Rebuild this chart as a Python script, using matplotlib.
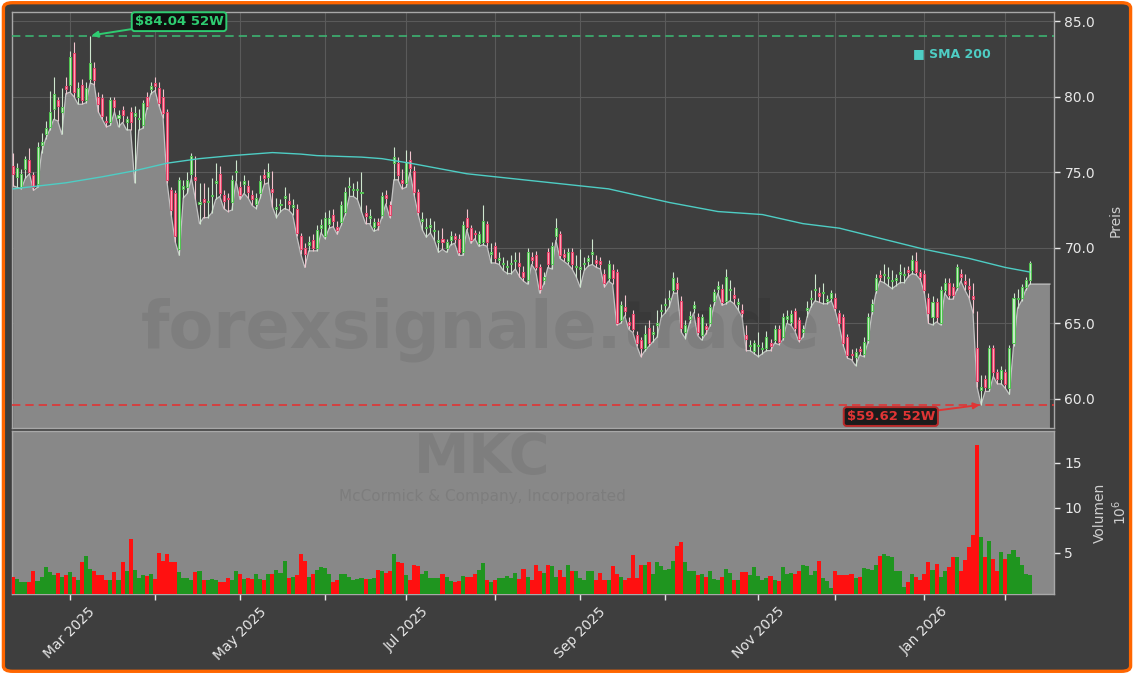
import numpy as np
import pandas as pd
import matplotlib
matplotlib.use("Agg")
import matplotlib.pyplot as plt
from matplotlib.patches import FancyBboxPatch


# ---------- Data ----------

TICKER = "MKC"
COMPANY = "McCormick & Company, Incorporated"
WATERMARK = "forexsignale.trade"

START = "2025-02-10"
END = "2026-02-10"
HOLIDAYS = ["2025-02-17", "2025-04-18", "2025-05-26", "2025-06-19", "2025-07-04",
            "2025-09-01", "2025-11-27", "2025-12-25", "2026-01-01", "2026-01-19"]

opens = [
    75.4, 74.7, 74.0, 75.2, 75.8, 74.8, 74.2, 76.8, 77.5, 78.0,
    79.2, 79.8, 79.0, 80.7, 80.8, 82.9, 80.0, 80.8, 79.8, 81.2,
    81.9, 80.0, 79.9, 78.4, 78.3, 79.8, 78.6, 79.1, 78.3, 79.0,
    78.7, 78.5, 78.1, 80.0, 80.5, 80.9, 80.6, 80.0, 79.0, 73.8,
    73.6, 69.9, 73.9, 74.0, 74.9, 74.7, 72.9, 73.2, 73.0, 73.4,
    74.3, 74.9, 73.5, 73.3, 73.0, 75.0, 74.0, 74.2, 74.1, 73.5,
    72.9, 73.6, 74.8, 74.7, 73.9, 72.6, 72.8, 73.3, 73.1, 72.7,
    72.6, 70.8, 70.0, 70.2, 70.5, 70.0, 71.3, 70.8, 71.6, 72.2,
    71.4, 71.7, 72.4, 74.0, 73.8, 73.8, 73.6, 72.3, 72.0, 71.4,
    71.7, 72.2, 73.5, 72.8, 75.6, 75.6, 74.5, 74.3, 75.8, 75.1,
    73.7, 71.8, 71.3, 71.4, 71.1, 70.4, 70.6, 70.0, 70.5, 70.8,
    70.6, 69.7, 72.0, 71.3, 71.0, 70.3, 70.4, 71.6, 69.6, 70.1,
    69.2, 68.9, 68.7, 68.9, 69.1, 69.0, 68.4, 67.9, 69.4, 69.5,
    68.7, 67.9, 69.7, 68.9, 70.8, 70.9, 69.6, 69.1, 69.7, 68.7,
    68.6, 68.9, 69.1, 69.6, 69.2, 69.1, 68.3, 68.0, 68.5, 68.4,
    65.2, 66.1, 65.1, 65.6, 64.2, 63.9, 63.4, 64.7, 64.3, 64.9,
    65.8, 66.2, 66.6, 67.2, 67.7, 66.5, 64.4, 65.3, 66.0, 65.4,
    64.2, 64.8, 65.0, 66.5, 67.3, 67.3, 66.5, 67.2, 66.9, 66.3,
    65.9, 64.2, 63.5, 63.2, 63.5, 63.3, 63.4, 63.7, 63.9, 64.6,
    64.1, 65.3, 65.1, 65.8, 65.2, 64.4, 65.9, 66.6, 67.2, 67.0,
    67.0, 66.5, 66.7, 66.7, 65.7, 65.4, 64.1, 63.0, 62.8, 63.3,
    63.0, 63.9, 65.8, 67.2, 68.2, 68.2, 68.0, 67.8, 67.9, 68.3,
    68.2, 68.5, 68.5, 69.1, 68.4, 68.3, 66.7, 65.4, 66.4, 65.0,
    67.2, 67.7, 67.4, 67.4, 68.3, 67.8, 67.5, 66.8, 63.4, 60.6,
    61.3, 60.7, 63.4, 61.8, 61.3, 61.8, 60.7, 63.7, 66.6, 66.7,
    67.4, 67.9,
]

highs = [
    76.3, 75.6, 75.2, 76.1, 76.6, 75.0, 77.0, 77.6, 78.4, 80.4,
    81.3, 80.0, 80.6, 81.3, 83.0, 83.6, 81.0, 81.2, 81.0, 84.04,
    82.3, 80.3, 80.2, 78.7, 80.0, 80.0, 79.1, 79.4, 78.7, 79.3,
    79.4, 79.2, 79.8, 80.3, 81.0, 81.3, 81.0, 80.5, 79.2, 74.0,
    73.8, 74.7, 74.5, 75.0, 76.3, 76.1, 74.3, 74.3, 74.0, 74.6,
    75.6, 75.4, 73.8, 73.6, 74.8, 75.8, 74.4, 74.8, 74.5, 73.8,
    73.6, 74.8, 75.2, 75.6, 75.1, 73.3, 73.2, 74.0, 73.6, 73.2,
    72.9, 71.0, 70.3, 70.8, 70.9, 71.5, 71.9, 72.4, 72.5, 72.6,
    71.8, 73.1, 74.0, 74.7, 74.3, 74.4, 75.0, 72.8, 72.6, 72.0,
    72.0, 73.7, 73.8, 73.1, 76.7, 76.0, 75.2, 76.5, 76.4, 75.4,
    73.9, 72.4, 72.0, 72.0, 71.8, 71.2, 71.3, 70.6, 71.1, 71.0,
    70.9, 71.8, 72.6, 71.5, 71.2, 71.1, 72.8, 71.8, 70.3, 70.4,
    69.7, 69.4, 69.2, 69.5, 69.7, 69.7, 68.8, 70.0, 69.7, 69.8,
    68.9, 68.4, 70.0, 70.4, 72.0, 71.1, 69.9, 70.0, 70.0, 69.5,
    69.9, 69.4, 69.5, 70.6, 69.5, 69.4, 68.6, 69.2, 68.9, 68.6,
    66.5, 66.9, 65.4, 65.9, 64.5, 64.1, 64.9, 65.2, 64.9, 65.9,
    66.3, 66.7, 67.2, 68.4, 68.1, 66.8, 65.2, 65.8, 66.5, 65.7,
    65.6, 65.0, 66.3, 67.3, 67.8, 67.6, 68.6, 67.9, 67.4, 66.7,
    66.3, 64.9, 63.9, 63.9, 64.4, 63.8, 64.5, 64.0, 64.9, 64.9,
    65.7, 65.9, 65.9, 66.0, 65.4, 64.9, 66.5, 67.2, 68.3, 67.4,
    67.7, 66.9, 67.2, 67.0, 65.9, 65.6, 64.3, 63.3, 63.4, 63.5,
    64.1, 65.7, 66.6, 68.3, 68.5, 68.9, 68.7, 68.5, 68.3, 68.9,
    68.7, 68.8, 69.5, 69.7, 68.6, 68.5, 67.0, 66.8, 66.7, 67.5,
    68.0, 68.0, 67.7, 68.9, 68.6, 68.3, 68.0, 67.7, 65.8, 61.6,
    61.6, 63.6, 63.6, 62.0, 62.2, 62.0, 63.6, 67.0, 67.3, 67.6,
    68.1, 69.1,
]

lows = [
    74.1, 74.0, 73.9, 74.6, 74.9, 73.8, 74.0, 76.3, 77.2, 77.8,
    78.5, 78.4, 77.5, 80.2, 80.3, 80.0, 79.5, 79.5, 79.6, 80.9,
    80.8, 79.0, 78.5, 78.0, 78.1, 79.0, 78.0, 78.3, 77.8, 77.8,
    74.3, 77.8, 77.9, 79.2, 80.2, 80.4, 79.4, 78.6, 74.3, 72.2,
    70.4, 69.5, 73.3, 73.6, 74.6, 73.2, 71.6, 72.0, 72.0, 72.3,
    73.2, 73.4, 72.6, 72.4, 72.5, 74.4, 73.2, 73.6, 73.3, 72.8,
    72.6, 73.3, 74.2, 74.3, 72.7, 72.0, 72.4, 72.6, 72.5, 72.2,
    70.8, 69.6, 68.7, 69.8, 69.8, 69.8, 71.0, 70.6, 71.3, 71.4,
    70.9, 71.5, 72.2, 73.4, 73.4, 73.2, 72.4, 71.6, 71.6, 71.1,
    71.2, 72.0, 72.9, 72.0, 74.5, 74.5, 73.9, 74.0, 75.0, 73.5,
    72.2, 71.2, 70.7, 71.0, 70.5, 69.7, 69.9, 69.7, 70.2, 70.3,
    69.5, 69.5, 71.2, 70.3, 70.6, 70.1, 70.2, 70.1, 69.0, 69.0,
    68.9, 68.5, 68.3, 68.3, 68.6, 68.1, 67.8, 67.6, 68.9, 68.5,
    67.0, 67.6, 68.7, 68.6, 70.5, 69.3, 69.1, 68.9, 68.6, 68.1,
    67.4, 68.5, 68.8, 68.9, 68.7, 68.6, 67.4, 67.8, 67.6, 64.9,
    65.0, 65.5, 64.6, 64.4, 63.5, 62.8, 63.2, 63.5, 63.8, 64.1,
    65.4, 65.7, 66.1, 67.0, 67.0, 64.4, 64.0, 65.0, 65.7, 64.2,
    63.9, 64.3, 64.8, 66.2, 67.0, 66.2, 66.3, 66.5, 66.3, 65.9,
    65.4, 63.2, 63.2, 63.0, 62.8, 63.0, 63.2, 63.2, 63.7, 63.6,
    63.9, 65.0, 64.9, 64.5, 63.8, 64.1, 65.4, 66.1, 66.5, 66.4,
    66.3, 66.3, 66.5, 65.8, 64.8, 63.5, 62.7, 62.6, 62.2, 62.9,
    62.8, 63.7, 65.6, 67.0, 67.8, 67.7, 67.5, 67.3, 67.5, 67.7,
    67.7, 68.1, 68.3, 68.2, 67.9, 67.0, 65.0, 64.9, 65.1, 64.9,
    67.0, 66.6, 66.6, 67.2, 67.8, 67.2, 66.7, 65.7, 60.8, 59.62,
    60.5, 60.5, 61.5, 61.0, 61.0, 60.7, 60.3, 63.5, 66.0, 66.5,
    67.2, 67.6,
]

closes = [
    74.9, 75.3, 74.9, 75.9, 75.0, 74.0, 76.7, 77.0, 77.9, 79.0,
    80.2, 79.4, 79.3, 80.5, 82.6, 80.3, 80.6, 79.8, 80.6, 82.2,
    81.1, 79.5, 78.7, 78.3, 79.8, 79.3, 78.8, 78.8, 78.5, 78.3,
    78.9, 78.6, 79.6, 79.4, 80.7, 80.7, 79.6, 78.9, 74.5, 72.5,
    70.8, 74.5, 74.1, 74.5, 76.1, 74.5, 73.0, 73.0, 73.1, 73.5,
    74.4, 73.6, 73.1, 73.2, 74.5, 75.1, 73.5, 74.4, 73.7, 73.2,
    73.3, 74.4, 74.6, 75.0, 73.7, 72.7, 72.9, 73.4, 72.9, 72.8,
    71.0, 69.9, 69.6, 70.4, 70.0, 71.2, 71.5, 72.0, 72.0, 71.8,
    71.2, 72.8, 73.7, 74.1, 73.9, 73.9, 73.7, 72.1, 72.1, 71.7,
    71.5, 73.4, 73.3, 72.2, 76.0, 74.8, 74.3, 75.7, 75.3, 73.7,
    72.4, 71.9, 71.4, 71.5, 71.2, 70.5, 70.4, 70.4, 70.8, 70.6,
    69.7, 71.5, 71.4, 70.5, 70.9, 70.9, 71.8, 70.4, 69.7, 69.3,
    69.3, 69.0, 68.8, 69.0, 69.2, 68.8, 68.1, 69.7, 69.2, 68.7,
    67.3, 68.1, 68.9, 70.1, 71.3, 69.5, 69.4, 69.7, 68.9, 68.8,
    68.7, 69.0, 69.3, 69.7, 69.0, 68.9, 67.7, 68.9, 68.0, 65.0,
    66.2, 65.8, 64.9, 64.6, 63.7, 63.4, 64.3, 63.7, 64.4, 65.0,
    65.9, 66.3, 66.7, 68.0, 67.3, 64.7, 64.9, 65.5, 66.2, 64.4,
    65.4, 64.6, 66.1, 67.1, 67.5, 66.4, 68.1, 67.3, 66.7, 66.4,
    65.7, 64.0, 63.6, 63.7, 63.6, 63.4, 64.1, 63.5, 64.6, 63.8,
    65.4, 65.5, 65.6, 64.7, 64.0, 64.6, 66.0, 66.7, 67.3, 66.8,
    67.1, 66.6, 67.0, 66.0, 65.0, 63.7, 62.9, 62.9, 63.1, 63.2,
    63.8, 65.4, 66.3, 68.0, 68.1, 68.3, 68.1, 67.9, 68.0, 68.4,
    68.3, 68.4, 69.2, 68.4, 68.1, 67.2, 65.7, 66.4, 65.4, 67.2,
    67.7, 66.9, 66.9, 68.7, 68.1, 67.6, 67.3, 66.6, 61.2, 60.8,
    60.8, 63.4, 61.8, 61.3, 61.9, 61.0, 63.4, 66.7, 66.7, 67.4,
    67.9, 69.0,
]

# volume in millions of shares
volumes = [
    2.3, 2.1, 1.7, 1.7, 1.7, 2.9, 1.8, 2.3, 3.4, 2.8,
    2.5, 2.7, 2.3, 2.5, 2.8, 2.3, 2.0, 3.9, 4.6, 3.2,
    3.0, 2.5, 2.5, 1.9, 1.9, 2.8, 2.0, 4.0, 3.0, 6.5,
    3.1, 2.2, 2.5, 2.4, 2.6, 2.1, 5.0, 4.1, 4.8, 3.9,
    3.9, 2.8, 2.2, 2.2, 2.0, 2.8, 2.9, 2.0, 2.0, 2.1,
    1.9, 1.7, 1.7, 2.2, 1.9, 2.9, 2.6, 2.1, 2.2, 2.1,
    2.6, 2.1, 1.9, 2.6, 2.6, 3.1, 2.7, 4.1, 2.2, 2.3,
    2.5, 4.8, 4.1, 2.3, 2.6, 3.1, 3.4, 3.3, 2.6, 1.7,
    2.0, 2.6, 2.6, 2.3, 2.0, 2.1, 2.2, 2.1, 2.1, 2.2,
    3.1, 3.0, 2.7, 3.0, 4.8, 3.9, 3.8, 2.5, 2.0, 3.6,
    3.5, 2.6, 3.0, 2.2, 2.2, 2.2, 2.6, 2.3, 1.8, 1.7,
    1.8, 2.4, 2.3, 2.3, 2.6, 3.1, 3.8, 1.9, 1.7, 2.0,
    2.2, 2.2, 2.4, 2.2, 2.7, 2.1, 3.2, 2.3, 2.0, 3.6,
    2.9, 2.7, 3.6, 3.5, 2.3, 3.1, 2.3, 3.6, 2.9, 2.9,
    2.2, 2.0, 2.9, 2.9, 1.9, 2.7, 2.0, 1.9, 3.5, 2.6,
    2.3, 1.9, 2.2, 4.7, 2.2, 3.6, 3.6, 3.9, 2.6, 3.9,
    3.5, 3.1, 3.2, 4.1, 5.7, 6.2, 4.0, 2.9, 2.9, 2.5,
    2.6, 2.3, 2.9, 2.1, 2.0, 2.3, 3.2, 2.7, 1.9, 2.0,
    2.8, 2.8, 2.5, 3.4, 2.4, 2.0, 2.2, 2.4, 1.9, 1.8,
    3.4, 2.6, 2.7, 2.6, 2.9, 3.6, 3.5, 2.5, 3.0, 4.1,
    2.2, 1.8, 1.1, 2.9, 2.5, 2.5, 2.5, 2.6, 2.2, 2.3,
    3.3, 3.2, 3.1, 3.6, 4.6, 4.8, 4.6, 4.5, 2.9, 2.9,
    1.2, 1.7, 2.6, 2.3, 2.0, 2.6, 3.9, 3.1, 3.7, 2.3,
    2.9, 3.4, 4.5, 4.5, 2.9, 4.2, 5.6, 6.9, 17.0, 6.7,
    4.5, 6.3, 4.3, 2.9, 5.1, 4.3, 4.8, 5.3, 4.5, 3.6,
    2.6, 2.5,
]

# 200-day SMA, sampled at trading-day positions
sma_idx = [0, 13, 22, 30, 38, 46, 54, 64, 71, 75, 86, 91, 98, 112,
           133, 147, 162, 174, 185, 195, 204, 219, 225, 236, 245, 251]
sma_vals = [73.9, 74.3, 74.7, 75.1, 75.6, 75.9, 76.1, 76.3, 76.2, 76.1,
            76.0, 75.9, 75.6, 74.9, 74.3, 73.9, 73.0, 72.4, 72.2, 71.6,
            71.3, 70.3, 69.9, 69.3, 68.7, 68.4]


# ---------- Style ----------

BG = "#3e3e3e"
FILL = "#888888"
GRID = "#5a5a5a"
SPINE = "#a8a8a8"
TEXT = "#e8e8e8"
UP_EDGE, UP_FACE, UP_WICK = "#52c452", "#c8ecc8", "#cfe6cf"
DN_EDGE, DN_FACE, DN_WICK = "#e8436a", "#ffa6ba", "#f2c4ce"
VOL_UP, VOL_DN = "#1f951f", "#ff1010"
SMA_COLOR = "#4ecdc4"
HIGH_COLOR = "#2ecc71"
LOW_COLOR = "#e03535"

W, H = 1134, 674


def trading_days():
    days = pd.bdate_range(START, END)
    return days[~days.isin(pd.to_datetime(HOLIDAYS))]


def main():
    dates = trading_days()
    o = np.array(opens)
    h = np.array(highs)
    l = np.array(lows)
    c = np.array(closes)
    v = np.array(volumes)
    x = np.arange(len(c))
    assert len(dates) == len(c)

    fig = plt.figure(figsize=(W / 100, H / 100), dpi=100, facecolor="white")
    fig.add_artist(FancyBboxPatch((0.003, 0.004), 0.994, 0.992,
                                  boxstyle="round,pad=0,rounding_size=0.008",
                                  transform=fig.transFigure, facecolor=BG,
                                  edgecolor="#ff6600", linewidth=2.4, zorder=-10))

    ax = fig.add_axes([12 / W, 1 - 428 / H, 1042 / W, 416 / H])
    axv = fig.add_axes([12 / W, 1 - 594 / H, 1042 / W, 163 / H], sharex=ax)
    ax.set_facecolor(BG)
    axv.set_facecolor(FILL)
    for a in (ax, axv):
        for s in a.spines.values():
            s.set_color(SPINE)
            s.set_linewidth(1.0)

    # ----- price: area under the lows -----
    x_fill = np.append(x, 256)
    y_fill = np.append(l, l[-1])
    ax.fill_between(x_fill, y_fill, 0, color=FILL, lw=0, zorder=1)
    ax.plot(x_fill, y_fill, color="#c4c4c4", lw=0.9, zorder=1.5)

    ax.text(481 / W, 1 - 330 / H, WATERMARK, transform=fig.transFigure,
            fontsize=47, fontweight="bold", color="black", alpha=0.07,
            ha="center", va="center", zorder=2)

    # ----- candles -----
    up = c >= o
    wick_colors = np.where(up, UP_WICK, DN_WICK)
    ax.vlines(x, l, h, colors=wick_colors, lw=0.8, zorder=3)
    body_lo = np.minimum(o, c)
    body_h = np.maximum(np.abs(c - o), 0.05)
    ax.bar(x, body_h, bottom=body_lo, width=0.5,
           color=np.where(up, UP_FACE, DN_FACE),
           edgecolor=np.where(up, UP_EDGE, DN_EDGE), linewidth=0.75, zorder=4)

    # ----- SMA 200 -----
    ax.plot(sma_idx, sma_vals, color=SMA_COLOR, lw=1.0, zorder=5)
    ax.text(0.865, 0.899, "\u25a0 SMA 200", transform=ax.transAxes,
            color=SMA_COLOR, fontsize=9, fontweight="bold", va="center", ha="left")

    # ----- 52 week high / low -----
    hi_i, lo_i = int(np.argmax(h)), int(np.argmin(l))
    hi, lo = h[hi_i], l[lo_i]
    ax.axhline(hi, color="#3cb371", lw=1.2, ls=(0, (5, 3)), zorder=6)
    ax.axhline(lo, color=LOW_COLOR, lw=1.2, ls=(0, (5, 3)), zorder=6)
    ax.annotate(f"\\${hi:.2f} 52W", xy=(hi_i, hi), xytext=(64, 10),
                textcoords="offset points", ha="center", va="center",
                color=HIGH_COLOR, fontsize=9.5, fontweight="bold", zorder=8,
                bbox=dict(boxstyle="round,pad=0.22", fc="#0e0e0e", ec=HIGH_COLOR, lw=1.4),
                arrowprops=dict(arrowstyle="-|>", color=HIGH_COLOR, lw=1.4,
                                mutation_scale=9, shrinkA=0, shrinkB=1))
    ax.annotate(f"\\${lo:.2f} 52W", xy=(lo_i, lo), xytext=(-65, -8.5),
                textcoords="offset points", ha="center", va="center",
                color=LOW_COLOR, fontsize=9.5, fontweight="bold", zorder=8,
                bbox=dict(boxstyle="round,pad=0.22", fc="#1c1c1c", ec="#b82828", lw=1.4),
                arrowprops=dict(arrowstyle="-|>", color=LOW_COLOR, lw=1.4,
                                mutation_scale=9, shrinkA=0, shrinkB=1))

    ax.set_ylim(58.08, 85.6)
    ax.set_xlim(-0.3, 257.0)
    ax.set_yticks([60, 65, 70, 75, 80, 85])
    ax.yaxis.set_major_formatter(plt.FormatStrFormatter("%.1f"))
    ax.yaxis.tick_right()
    ax.yaxis.set_label_position("right")
    ax.set_ylabel("Preis", color="#cfcfcf", fontsize=10, labelpad=10)
    ax.tick_params(axis="y", colors=TEXT, labelsize=10, length=4, width=1)
    ax.tick_params(axis="x", which="both", length=0, labelbottom=False)
    ax.set_axisbelow(True)

    # ----- volume -----
    axv.bar(x, v, width=1.0, color=np.where(up, VOL_UP, VOL_DN), linewidth=0, zorder=3)
    axv.text(482 / W, 1 - 458 / H, TICKER, transform=fig.transFigure,
             fontsize=40, fontweight="bold", color="black", alpha=0.07,
             ha="center", va="center", zorder=2)
    axv.text(482 / W, 1 - 496 / H, COMPANY, transform=fig.transFigure,
             fontsize=11, color="black", alpha=0.08, ha="center", va="center", zorder=2)
    axv.set_ylim(0.4, 18.5)
    axv.set_yticks([5, 10, 15])
    axv.yaxis.tick_right()
    axv.yaxis.set_label_position("right")
    axv.set_ylabel("Volumen\n$10^6$", color="#cfcfcf", fontsize=10, labelpad=8)
    axv.tick_params(axis="y", colors=TEXT, labelsize=10, length=4, width=1)

    # month ticks: labelled every second month, minor ticks in between
    month_key = dates.year * 12 + dates.month
    starts = np.flatnonzero(np.diff(month_key) != 0) + 1
    major = [i for i in starts if dates[i].month % 2 == 1]
    minor = [i for i in starts if dates[i].month % 2 == 0]
    axv.set_xticks(major, labels=[dates[i].strftime("%b %Y") for i in major])
    axv.set_xticks(minor, minor=True)
    axv.tick_params(axis="x", which="both", colors=TEXT, labelsize=10,
                    length=4, width=1, direction="out")
    plt.setp(axv.get_xticklabels(), rotation=45, ha="center")

    ax.grid(True, which="both", axis="x", color=GRID, lw=0.8)
    ax.grid(True, which="major", axis="y", color=GRID, lw=0.8)

    fig.savefig("out.png", dpi=100, facecolor=fig.get_facecolor())
    plt.close(fig)


if __name__ == "__main__":
    main()
